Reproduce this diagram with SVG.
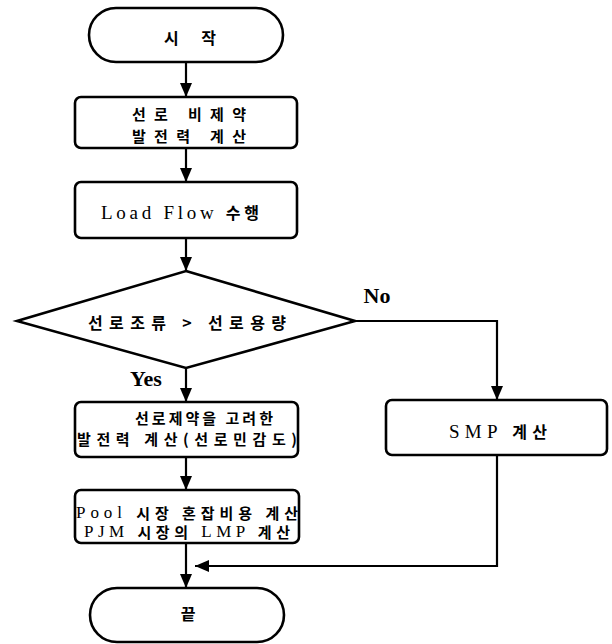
<svg xmlns="http://www.w3.org/2000/svg" width="612" height="644" viewBox="0 0 612 644">
<style>
.shape{fill:#fff;stroke:#000;stroke-width:2.6}
.line{fill:none;stroke:#000;stroke-width:2.2}
text{font-family:"Liberation Serif","Noto Sans CJK KR",serif;font-size:16px;fill:#000;text-anchor:middle;dominant-baseline:central}
.k{font-family:"Noto Sans CJK KR","Liberation Serif",sans-serif;font-weight:bold}
.lat{font-size:19px}
.sm{font-size:15px}
.lbl{font-weight:bold;font-size:22px}
</style>
<defs>
<marker id="ah" viewBox="0 0 14 12" refX="14" refY="6" markerWidth="14" markerHeight="12" markerUnits="userSpaceOnUse" orient="auto">
<path d="M0,0 L14,6 L0,12 Z" fill="#000"/>
</marker>
</defs>
<g id="start">
<rect class="shape" x="89" y="8" width="194" height="54" rx="27" ry="27"/>
<text x="190" y="37" class="k" textLength="52">시 작</text>
</g>
<g id="box1">
<rect class="shape" x="75" y="97" width="222" height="51" rx="6"/>
<text x="189" y="113" class="k sm" textLength="114">선로 비제약</text>
<text x="189" y="135" class="k sm" textLength="114">발전력 계산</text>
</g>
<g id="box2">
<rect class="shape" x="75" y="182" width="222" height="56" rx="6"/>
<text x="180" y="212" class="lat" textLength="158">Load Flow <tspan class="k" style="font-size:16px">수행</tspan></text>
</g>
<g id="decision">
<polygon class="shape" points="186,271 355,321 186,368 17,321"/>
<text x="187" y="322" class="k" textLength="198">선로조류 &gt; 선로용량</text>
</g>
<g id="box3">
<rect class="shape" x="75" y="402" width="223" height="55" rx="6"/>
<text x="204" y="417" class="k sm" textLength="138">선로제약을 고려한</text>
<text x="187" y="438" class="k sm" textLength="220">발전력 계산(선로민감도)</text>
</g>
<g id="box4">
<rect class="shape" x="75" y="490" width="224" height="53" rx="6"/>
<text x="187" y="512" class="lat" style="font-size:17px" textLength="222">Pool <tspan class="k sm">시장 혼잡비용 계산</tspan></text>
<text x="187" y="531" class="lat" style="font-size:17px" textLength="206">PJM <tspan class="k sm">시장의</tspan> LMP <tspan class="k sm">계산</tspan></text>
</g>
<g id="smp">
<rect class="shape" x="386" y="400" width="221" height="55" rx="6"/>
<text x="498" y="431" class="lat" textLength="98">SMP <tspan class="k" style="font-size:16px">계산</tspan></text>
</g>
<g id="end">
<rect class="shape" x="90" y="588" width="194" height="54" rx="27" ry="27"/>
<text x="188" y="613" class="k">끝</text>
</g>
<g id="labels">
<text x="377" y="295" class="lbl">No</text>
<text x="146" y="378" class="lbl">Yes</text>
</g>
<g id="connectors">
<line class="line" x1="186" y1="62" x2="186" y2="97" marker-end="url(#ah)"/>
<line class="line" x1="186" y1="148" x2="186" y2="182" marker-end="url(#ah)"/>
<line class="line" x1="186" y1="238" x2="186" y2="271" marker-end="url(#ah)"/>
<line class="line" x1="186" y1="368" x2="186" y2="402" marker-end="url(#ah)"/>
<line class="line" x1="186" y1="457" x2="186" y2="490" marker-end="url(#ah)"/>
<line class="line" x1="186" y1="543" x2="186" y2="588" marker-end="url(#ah)"/>
<polyline class="line" points="355,321 497,321 497,400" marker-end="url(#ah)"/>
<polyline class="line" points="497,455 497,566 195,566" marker-end="url(#ah)"/>
</g>
</svg>
